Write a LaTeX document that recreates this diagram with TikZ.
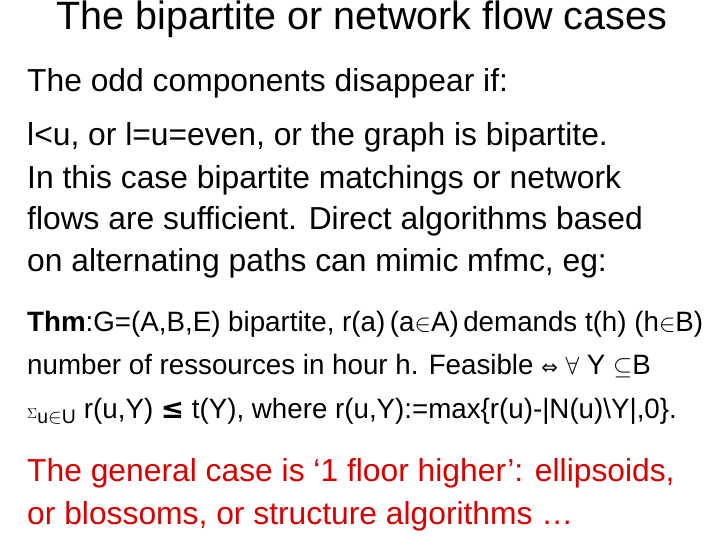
\documentclass[tikz,border=0pt]{standalone}
\usepackage{fontspec}
\setmainfont{Liberation Sans}
\newfontfamily\djsans{DejaVu Sans}
\begin{document}
\begin{tikzpicture}[x=1pt,y=-1pt,
  body/.style={anchor=west,inner sep=0pt,font=\fontsize{31.8}{36}\selectfont},
  thm/.style={anchor=west,inner sep=0pt,font=\fontsize{28}{32}\selectfont,xscale=0.99},
  red/.style={body,text=red!85!black}]
\useasboundingbox (0,0) rectangle (720,540);
\node[inner sep=0pt,font=\fontsize{39.5}{44}\selectfont] (title) at (362,19) {The bipartite or network flow cases};
\node[body] (l1) at (27,83) {The odd components disappear if:};
\node[body] (l2) at (27,137) {l<u, or l=u=even, or the graph is bipartite.};
\node[body] (l3) at (27,180) {In this case bipartite matchings or network};
\node[body] (l4) at (27,221) {flows are sufficient. Direct algorithms based};
\node[body] (l5) at (27,263) {on alternating paths can mimic mfmc, eg:};
\node[thm] (t1) at (27,324) {\textbf{Thm}:G=(A,B,E) bipartite, r(a)\,(a$\in$A)\,demands t(h) (h$\in$B)};
\node[thm] (t2) at (27,366) {number of ressources in hour h. Feasible {\djsans\fontsize{20}{22}\selectfont ⇔} $\forall$ Y $\subseteq$B};
\node[thm] (t3) at (27,411) {{\Large$\Sigma$}$_{\mathrm{u}\in\mathrm{U}}$ r(u,Y) {\djsans\bfseries ≤} t(Y), where r(u,Y):=max\{r(u)-|N(u)\textbackslash Y|,0\}.};
\node[red] (r1) at (27,473) {The general case is ‘1 floor higher’: ellipsoids,};
\node[red] (r2) at (27,516) {or blossoms, or structure algorithms …};
\end{tikzpicture}
\end{document}
